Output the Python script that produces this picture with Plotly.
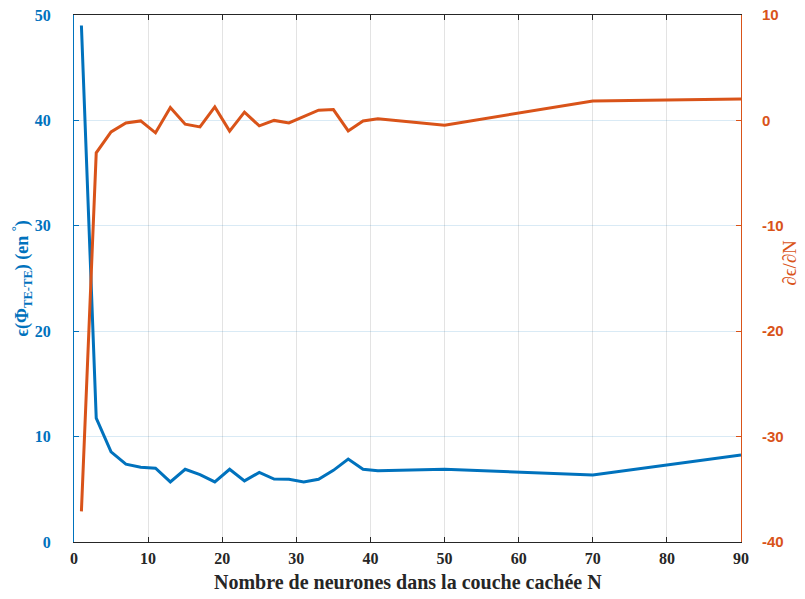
import plotly.graph_objects as go

n_neurons = [1, 3, 5, 7, 9, 11, 13, 15, 17, 19, 21, 23, 25, 27, 29, 31, 33, 35, 37, 39, 41, 50, 70, 90]
erreur_phi = [49.0, 11.75, 8.56, 7.39, 7.1, 7.0, 5.7, 6.9, 6.4, 5.7, 6.9, 5.8, 6.6, 5.97, 5.95, 5.7,
              5.95, 6.8, 7.87, 6.9, 6.76, 6.9, 6.35, 8.25]
derivee = [-37.1, -3.08, -1.09, -0.24, -0.05, -1.18, 1.22, -0.36, -0.62, 1.28, -1.02, 0.78, -0.52,
           0.0, -0.24, 0.4, 0.97, 1.03, -1.0, -0.05, 0.15, -0.45, 1.85, 2.04]

x_ticks = [0, 10, 20, 30, 40, 50, 60, 70, 80, 90]
y_left_ticks = [0, 10, 20, 30, 40, 50]
y_right_ticks = [-40, -30, -20, -10, 0, 10]

BLUE = "#0072BD"
ORANGE = "#D95319"
DARK = "#262626"

fig = go.Figure()
fig.add_trace(go.Scatter(x=n_neurons, y=erreur_phi, mode="lines",
                         line=dict(color=BLUE, width=3), yaxis="y", showlegend=False))
fig.add_trace(go.Scatter(x=n_neurons, y=derivee, mode="lines",
                         line=dict(color=ORANGE, width=3), yaxis="y2", showlegend=False))

fig.update_layout(
    width=805, height=599,
    margin=dict(l=74, r=64, t=15, b=57, autoexpand=False),
    paper_bgcolor="white", plot_bgcolor="white",
    font=dict(family="Liberation Serif", size=15, color=DARK),
    xaxis=dict(
        range=[0, 90], tickvals=x_ticks, ticktext=[str(v) for v in x_ticks],
        ticks="inside", ticklen=5, tickcolor=DARK, tickwidth=1,
        showline=True, linecolor=DARK, linewidth=1, mirror="ticks",
        showgrid=True, gridcolor="rgba(38,38,38,0.13)", gridwidth=1,
        zeroline=False, automargin=False, ticklabelstandoff=2,
        tickfont=dict(family="Liberation Serif", size=16, color=DARK, weight="bold"),
    ),
    yaxis=dict(
        range=[0, 50], tickvals=y_left_ticks, ticktext=[str(v) for v in y_left_ticks],
        ticks="inside", ticklen=5, tickcolor=BLUE, tickwidth=1,
        showline=True, linecolor=BLUE, linewidth=1,
        showgrid=True, gridcolor="rgba(0,114,189,0.15)", gridwidth=1,
        zeroline=False, automargin=False, ticklabelstandoff=19,
        tickfont=dict(family="Liberation Serif", size=16, color=BLUE, weight="bold"),
    ),
    yaxis2=dict(
        range=[-40, 10], tickvals=y_right_ticks, ticktext=[str(v) for v in y_right_ticks],
        overlaying="y", side="right", anchor="x",
        ticks="inside", ticklen=5, tickcolor=ORANGE, tickwidth=1,
        showline=True, linecolor=ORANGE, linewidth=1,
        showgrid=False, zeroline=False, automargin=False, ticklabelstandoff=17,
        tickfont=dict(family="Liberation Sans", size=15, color=ORANGE, weight="bold"),
    ),
    annotations=[
        dict(text="<b>Nombre de neurones dans la couche cachée N</b>",
             xref="paper", yref="paper", x=0.5, y=0, yshift=-40,
             xanchor="center", yanchor="middle", showarrow=False,
             font=dict(family="Liberation Serif", size=20, color=DARK)),
        dict(text="<b>ϵ(Φ<sub>TE-TE</sub>) (en <sup>°</sup>)</b>",
             xref="paper", yref="paper", x=0, y=0.5, xshift=-52,
             xanchor="center", yanchor="middle", textangle=-90, showarrow=False,
             font=dict(family="Liberation Serif", size=18, color=BLUE)),
        dict(text="∂ϵ/∂N",
             xref="paper", yref="paper", x=1, y=0.53, xshift=49,
             xanchor="center", yanchor="middle", textangle=-90, showarrow=False,
             font=dict(family="Liberation Serif", size=19, color=ORANGE)),
    ],
)

fig.write_html("out.html", config={"displayModeBar": False},
               post_script="document.body.style.margin='0px';document.body.style.overflow='hidden';")
